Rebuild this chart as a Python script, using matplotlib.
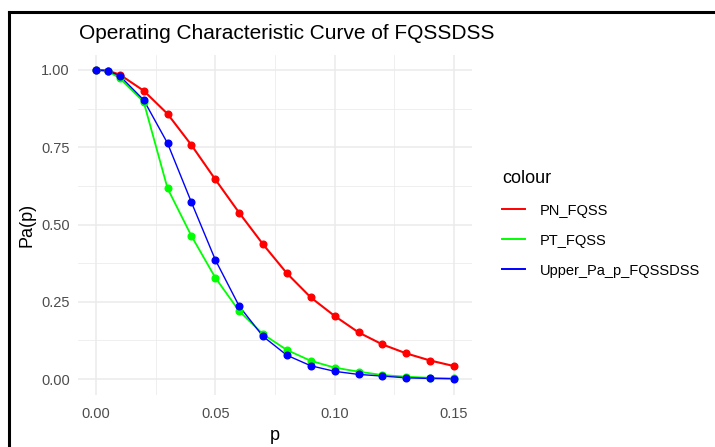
import matplotlib
matplotlib.use("Agg")
import matplotlib.pyplot as plt
from matplotlib.lines import Line2D
from matplotlib.ticker import MultipleLocator, FormatStrFormatter

plt.rcParams['font.family'] = ['Liberation Sans', 'DejaVu Sans']

# values
p = [0.0, 0.005, 0.01, 0.02, 0.03, 0.04, 0.05, 0.06, 0.07, 0.08,
     0.09, 0.10, 0.11, 0.12, 0.13, 0.14, 0.15]
pn_fqss = [1.0, 0.998, 0.985, 0.933, 0.858, 0.757, 0.646, 0.538, 0.436, 0.342,
           0.264, 0.204, 0.151, 0.112, 0.083, 0.060, 0.042]
pt_fqss = [1.0, 0.997, 0.973, 0.897, 0.617, 0.463, 0.328, 0.220, 0.145, 0.094,
           0.059, 0.037, 0.024, 0.013, 0.0075, 0.004, 0.002]
upper_fqssdss = [1.0, 0.998, 0.981, 0.903, 0.763, 0.572, 0.386, 0.236, 0.138, 0.077,
                 0.043, 0.025, 0.015, 0.0097, 0.004, 0.002, 0.001]

series_names = ['PN_FQSS', 'PT_FQSS', 'Upper_Pa_p_FQSSDSS']
series_values = [pn_fqss, pt_fqss, upper_fqssdss]
series_colors = ['#FF0000', '#00FF00', '#0000FF']
series_widths = [1.5, 1.3, 1.0]

fig = plt.figure(figsize=(7.15, 4.47), dpi=100)
ax = fig.add_axes([0.1091, 0.1174, 0.5510, 0.7606])

for name, vals, col, lw in zip(series_names, series_values, series_colors, series_widths):
    ax.plot(p, vals, color=col, linewidth=lw, zorder=3)
    ax.plot(p, vals, linestyle='none', marker='o', markersize=4.8, color=col, zorder=4)

ax.set_xlim(-0.0075, 0.1575)
ax.set_ylim(-0.05, 1.05)
ax.xaxis.set_major_locator(MultipleLocator(0.05))
ax.xaxis.set_minor_locator(MultipleLocator(0.025))
ax.yaxis.set_major_locator(MultipleLocator(0.25))
ax.yaxis.set_minor_locator(MultipleLocator(0.125))
ax.xaxis.set_major_formatter(FormatStrFormatter('%.2f'))
ax.yaxis.set_major_formatter(FormatStrFormatter('%.2f'))

ax.grid(which='major', color='#EBEBEB', linewidth=1.1, zorder=0)
ax.grid(which='minor', color='#EBEBEB', linewidth=0.55, zorder=0)
ax.set_axisbelow(True)
for s in ax.spines.values():
    s.set_visible(False)
ax.tick_params(which='both', length=0, labelsize=10.5, labelcolor='#4D4D4D')
ax.tick_params(axis='x', pad=9)
ax.tick_params(axis='y', pad=6)

ax.set_xlabel('p', fontsize=13, color='black', labelpad=4)
ax.set_ylabel('Pa(p)', fontsize=13, color='black', labelpad=4)
fig.text(0.1105, 0.925, 'Operating Characteristic Curve of FQSSDSS',
         fontsize=15, color='black', ha='left', va='center')

handles = [Line2D([], [], color=c, linewidth=1.4) for c in series_colors]
fig.legend(handles, series_names, title='colour', loc='upper left',
           bbox_to_anchor=(0.6836, 0.648), frameon=False, fontsize=10.5,
           title_fontsize=13, handlelength=1.6, handletextpad=1.0,
           labelspacing=1.1, alignment='left')

# black screenshot border on the top and left edges
fig.add_artist(Line2D([0.013, 1.0], [0.974, 0.974], transform=fig.transFigure,
                      color='black', linewidth=2.2))
fig.add_artist(Line2D([0.013, 0.013], [0.0, 0.974], transform=fig.transFigure,
                      color='black', linewidth=2.2))

fig.savefig('out.png', dpi=100, facecolor='white')
